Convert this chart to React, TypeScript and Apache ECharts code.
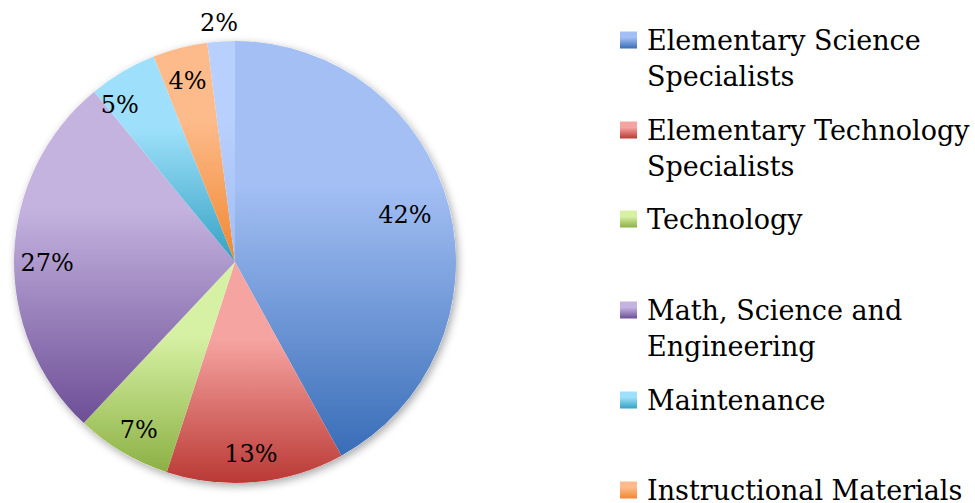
import React, { useEffect, useRef } from "react";
import * as echarts from "echarts";

const categories = [
  "Elementary Science Specialists",
  "Elementary Technology Specialists",
  "Technology",
  "Math, Science and Engineering",
  "Maintenance",
  "Instructional Materials",
  "Other",
];
const legendLabels = [
  "Elementary Science\nSpecialists",
  "Elementary Technology\nSpecialists",
  "Technology",
  "Math, Science and\nEngineering",
  "Maintenance",
  "Instructional Materials",
];
const values = [42, 13, 7, 27, 5, 4, 2];
const lightColors = ["#a3bff4", "#f6a4a1", "#d6f1a4", "#c4b3df", "#9ee0fb", "#fdbb8b", "#b8d0fd"];
const darkColors = ["#386db7", "#ba3935", "#8cb044", "#6d4e96", "#34a1c2", "#f1872f", "#a0bdf3"];
const legendFirstLineY = [40, 130, 219, 310, 400, 490];
const labelOffsets = [[-15, 0], [-2, 2], [1, 4], [3, 7], [-18, 7], [0, 4], [-4, -48]];

const grad = (i: number) =>
  new echarts.graphic.LinearGradient(0, 0, 0, 1, [
    { offset: 0, color: lightColors[i] },
    { offset: 0.35, color: lightColors[i] },
    { offset: 1, color: darkColors[i] },
  ]);

export default function App() {
  const ref = useRef<HTMLDivElement>(null);
  useEffect(() => {
    if (!ref.current) return;
    const chart = echarts.init(ref.current, null, { renderer: "svg" });
    const font = "DejaVu Serif";
    const center = [235, 262];
    const R = 221;
    const pieData = categories.map((name, i) => ({
      name,
      value: values[i],
      itemStyle: { color: grad(i) },
    }));
    const labelData = categories.map((name, i) => ({
      name,
      value: values[i],
      label: { offset: labelOffsets[i] },
    }));
    const legends = legendLabels.map((lab, i) => {
      const twoLine = lab.includes("\n");
      return {
        data: [categories[i]],
        orient: "vertical",
        left: 620,
        top: legendFirstLineY[i] - (twoLine ? 54 : 18),
        padding: 0,
        itemWidth: 17,
        itemHeight: 17,
        itemGap: 0,
        icon: "rect",
        selectedMode: false,
        formatter: () => (twoLine ? " \n" + lab : lab),
        textStyle: {
          fontFamily: font,
          fontSize: 27,
          color: "#000",
          lineHeight: 36,
          padding: [0, 0, 0, 5],
        },
      };
    });
    chart.setOption({
      animation: false,
      backgroundColor: "#fff",
      legend: legends,
      series: [
        {
          type: "pie",
          silent: true,
          center,
          radius: R,
          data: [{ name: "__bg", value: 1 }],
          label: { show: false },
          labelLine: { show: false },
          itemStyle: {
            color: "#fff",
            shadowBlur: 8,
            shadowColor: "rgba(0,0,0,0.35)",
            shadowOffsetX: 2,
            shadowOffsetY: 3,
          },
        },
        {
          type: "pie",
          silent: true,
          center,
          radius: R,
          startAngle: 90,
          clockwise: true,
          data: pieData,
          label: { show: false },
          labelLine: { show: false },
        },
        {
          type: "pie",
          silent: true,
          center,
          radius: [155, R],
          startAngle: 90,
          clockwise: true,
          data: labelData,
          itemStyle: { color: "rgba(0,0,0,0)" },
          labelLine: { show: false },
          label: {
            show: true,
            position: "inside",
            formatter: (p: any) => p.value + "%",
            fontFamily: font,
            fontSize: 24,
            color: "#000",
          },
        },
      ],
    });
    return () => chart.dispose();
  }, []);
  return (
    <div
      ref={ref}
      style={{ position: "fixed", left: 0, top: 0, width: 975, height: 503 }}
    />
  );
}
